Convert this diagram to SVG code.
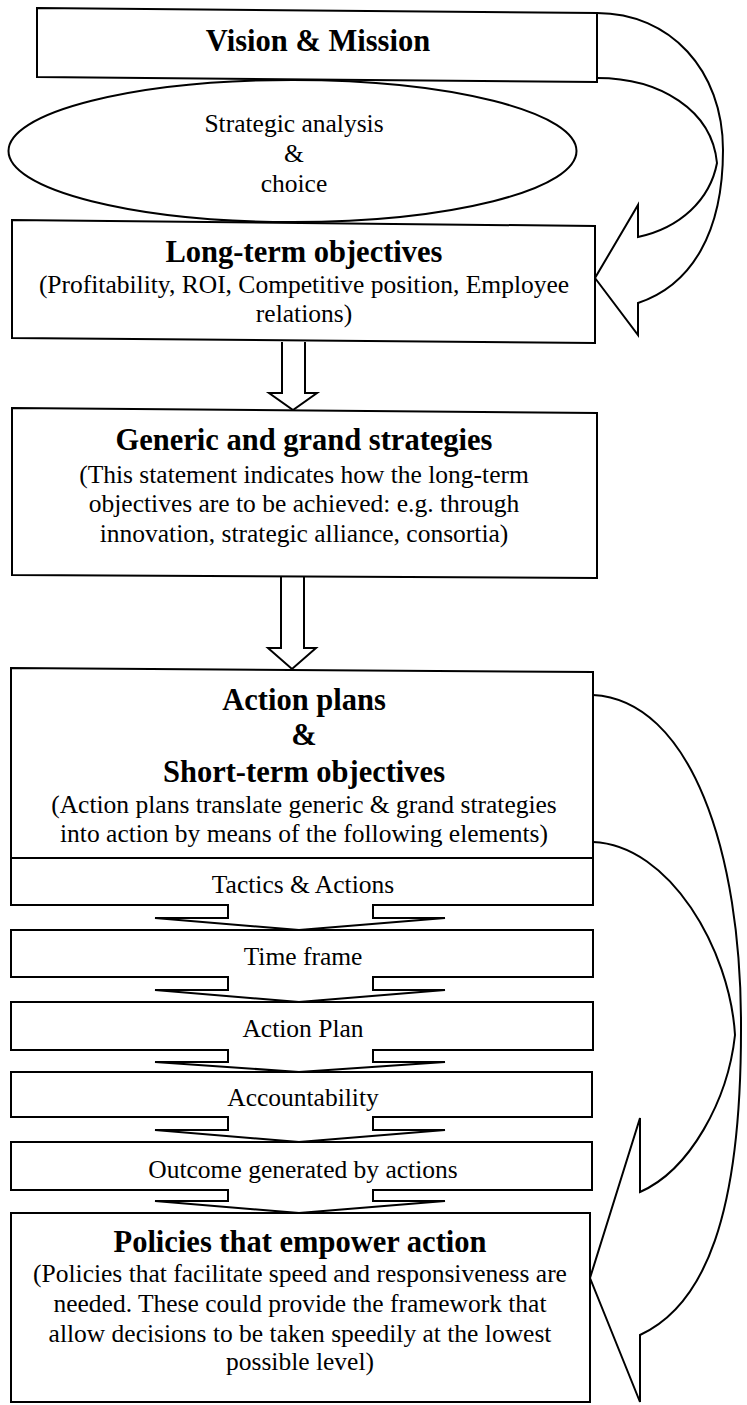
<svg xmlns="http://www.w3.org/2000/svg" width="747" height="1405" viewBox="0 0 747 1405">
<style>
  .box{fill:#fff;stroke:#000;stroke-width:2}
  .ln{fill:none;stroke:#000;stroke-width:2;stroke-linejoin:miter}
  .wf{fill:#fff;stroke:none}
  .t{font-family:"Liberation Serif","Times New Roman",serif;font-size:25.5px;text-anchor:middle;fill:#000}
  .b{font-family:"Liberation Serif","Times New Roman",serif;font-size:30.5px;font-weight:bold;text-anchor:middle;fill:#000}
</style>
<rect width="747" height="1405" fill="#fff"/>

<g id="connectors">
  <!-- top curved hollow arrow -->
  <path class="ln" d="M597,13 C670,13 723,70 723,150 C723,232 692,285 638,303 L638,335 L595,278 L638,205 L638,237 C680,228 710,200 717,163 C712,110 660,78 597,78"/>
  <!-- hollow down arrow 1 -->
  <path class="box" d="M282,342 V393 H269 L293,410 L317,393 H305 V342"/>
  <!-- hollow down arrow 2 -->
  <path class="box" d="M281,577 V648 H268 L292,669 L316,648 H304 V577"/>
  <!-- big curved hollow arrow -->
  <path class="ln" d="M593,695 C690,700 742,850 741,1030 C741,1215 705,1305 640,1335 L640,1402 L590,1278 L640,1118 L640,1192 C690,1170 728,1100 735,1035 C730,950 670,845 593,842"/>
</g>

<g id="vision">
  <polygon class="box" points="37,8 597,13 597,82 37,77"/>
  <text class="b" x="318" y="51">Vision &amp; Mission</text>
</g>

<g id="strategic-analysis">
  <ellipse class="box" cx="292.5" cy="151" rx="284" ry="71"/>
  <text class="t" x="294" y="132">Strategic analysis</text>
  <text class="t" x="294" y="162">&amp;</text>
  <text class="t" x="294" y="192">choice</text>
</g>

<g id="long-term">
  <polygon class="box" points="12,220 595,226 595,343 12,338"/>
  <text class="b" x="304" y="262">Long-term objectives</text>
  <text class="t" x="304" y="293">(Profitability, ROI, Competitive position, Employee</text>
  <text class="t" x="304" y="322">relations)</text>
</g>

<g id="generic">
  <polygon class="box" points="12,408 597,413 597,578 12,575"/>
  <text class="b" x="304" y="450">Generic and grand strategies</text>
  <text class="t" x="304" y="483">(This statement indicates how the long-term</text>
  <text class="t" x="304" y="512">objectives are to be achieved: e.g. through</text>
  <text class="t" x="304" y="542">innovation, strategic alliance, consortia)</text>
</g>

<g id="action-plans">
  <polygon class="box" points="11,668 593,672 593,858 11,858"/>
  <text class="b" x="304" y="710">Action plans</text>
  <text class="b" x="304" y="745">&amp;</text>
  <text class="b" x="304" y="782">Short-term objectives</text>
  <text class="t" x="304" y="813">(Action plans translate generic &amp; grand strategies</text>
  <text class="t" x="304" y="842">into action by means of the following elements)</text>
</g>

<g id="tactics">
  <rect class="box" x="11" y="858" width="582" height="47"/>
  <text class="t" x="303" y="893">Tactics &amp; Actions</text>
</g>
<g id="time-frame">
  <rect class="box" x="11" y="930" width="582" height="47"/>
  <text class="t" x="303" y="965">Time frame</text>
</g>
<g id="action-plan">
  <rect class="box" x="11" y="1002" width="582" height="48"/>
  <text class="t" x="303" y="1037">Action Plan</text>
</g>
<g id="accountability">
  <rect class="box" x="11" y="1072" width="581" height="45"/>
  <text class="t" x="303" y="1106">Accountability</text>
</g>
<g id="outcome">
  <rect class="box" x="11" y="1142" width="581" height="48"/>
  <text class="t" x="303" y="1178">Outcome generated by actions</text>
</g>
<g id="policies">
  <rect class="box" x="11" y="1213" width="579" height="189"/>
  <text class="b" x="300" y="1252">Policies that empower action</text>
  <text class="t" x="300" y="1282">(Policies that facilitate speed and responsiveness are</text>
  <text class="t" x="300" y="1312">needed. These could provide the framework that</text>
  <text class="t" x="300" y="1342">allow decisions to be taken speedily at the lowest</text>
  <text class="t" x="300" y="1370">possible level)</text>
</g>

<g id="chevrons">
  <path class="wf" d="M229,903 V918 H155 L299,930 L445,918 H372 V903 Z"/>
  <path class="ln" d="M228,905 V918 H155 L299,930 L445,918 H373 V905"/>
  <path class="wf" d="M229,975 V990 H155 L299,1002 L445,990 H372 V975 Z"/>
  <path class="ln" d="M228,977 V990 H155 L299,1002 L445,990 H373 V977"/>
  <path class="wf" d="M229,1048 V1062 H155 L299,1072 L445,1062 H372 V1048 Z"/>
  <path class="ln" d="M228,1050 V1062 H155 L299,1072 L445,1062 H373 V1050"/>
  <path class="wf" d="M229,1115 V1130 H155 L299,1142 L445,1130 H372 V1115 Z"/>
  <path class="ln" d="M228,1117 V1130 H155 L299,1142 L445,1130 H373 V1117"/>
  <path class="wf" d="M229,1188 V1201 H155 L299,1213 L445,1201 H372 V1188 Z"/>
  <path class="ln" d="M228,1190 V1201 H155 L299,1213 L445,1201 H373 V1190"/>
</g>
</svg>
